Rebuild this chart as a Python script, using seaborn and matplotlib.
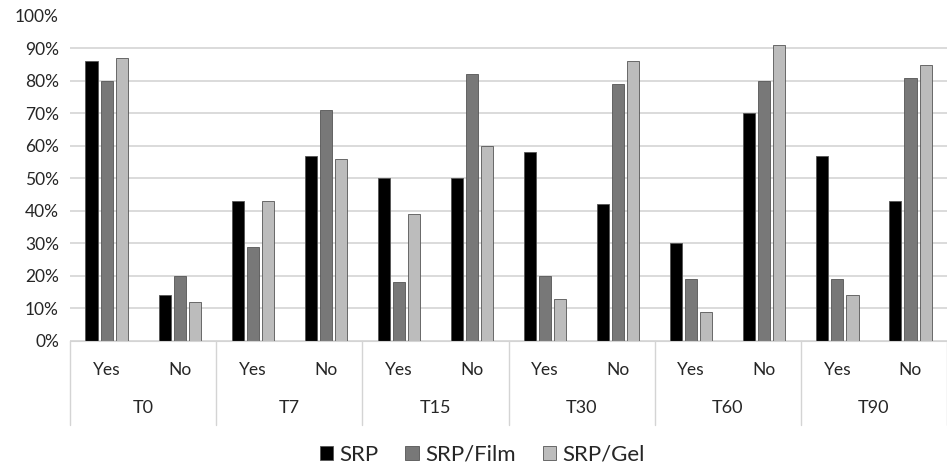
import matplotlib
matplotlib.use("Agg")
import matplotlib.pyplot as plt
import numpy as np
import pandas as pd
import seaborn as sns

# (percent of patients)
timepoints = ["T0", "T7", "T15", "T30", "T60", "T90"]
answers = ["Yes", "No"]
treatments = ["SRP", "SRP/Film", "SRP/Gel"]
srp = [86, 14, 43, 57, 50, 50, 58, 42, 30, 70, 57, 43]
srp_film = [80, 20, 29, 71, 18, 82, 20, 79, 19, 80, 19, 81]
srp_gel = [87, 12, 43, 56, 39, 60, 13, 86, 9, 91, 14, 85]

slots = [f"{t} {a}" for t in timepoints for a in answers]
rows = []
for name, vals in zip(treatments, [srp, srp_film, srp_gel]):
    for slot, v in zip(slots, vals):
        rows.append({"slot": slot, "treatment": name, "value": v / 100})
df = pd.DataFrame(rows)

sns.set_style("white")
plt.rcParams["font.family"] = ["Lato", "DejaVu Sans"]

fig = plt.figure(figsize=(9.47, 4.67), dpi=100)
ax = fig.add_axes([0.074, 0.27, 0.926, 0.696])

palette = {"SRP": "#000000", "SRP/Film": "#787878", "SRP/Gel": "#bcbcbc"}
sns.barplot(data=df, x="slot", y="value", hue="treatment", order=slots,
            hue_order=treatments, palette=palette, width=0.62, gap=0.2,
            saturation=1, edgecolor="#555555", linewidth=0.6, ax=ax)

ax.set_xlim(-0.5, len(slots) - 0.5)
ax.set_ylim(0, 1.0)
ax.set_yticks(np.arange(0, 1.01, 0.1))
ax.set_yticklabels([f"{int(round(v * 100))}%" for v in np.arange(0, 1.01, 0.1)],
                   fontsize=12.5)
ax.yaxis.grid(True, color="#d4d4d4", lw=1.2)
ax.set_axisbelow(True)
ax.get_ygridlines()[-1].set_visible(False)
ax.tick_params(axis="both", length=0, pad=8)
ax.set_xticks([])
ax.set_xlabel("")
ax.set_ylabel("")
for side in ["top", "right", "left"]:
    ax.spines[side].set_visible(False)
ax.spines["bottom"].set_color("#d4d4d4")

# two-level category axis
trans = ax.get_xaxis_transform()
for i, slot in enumerate(slots):
    ax.text(i, -0.09, slot.split()[1], transform=trans, ha="center",
            va="center", fontsize=12.5)
for g, t in enumerate(timepoints):
    ax.text(2 * g + 0.5, -0.206, t, transform=trans, ha="center",
            va="center", fontsize=13)
for b in range(len(timepoints) + 1):
    ax.plot([2 * b - 0.5, 2 * b - 0.5], [0, -0.26], transform=trans,
            color="#d4d4d4", lw=1, clip_on=False)

sns.move_legend(ax, "center", bbox_to_anchor=(0.47, -0.35), ncol=3,
                frameon=False, title=None, fontsize=16, handlelength=0.6,
                handleheight=0.6, handletextpad=0.3, columnspacing=1.2)

fig.savefig("out.png", dpi=100)
